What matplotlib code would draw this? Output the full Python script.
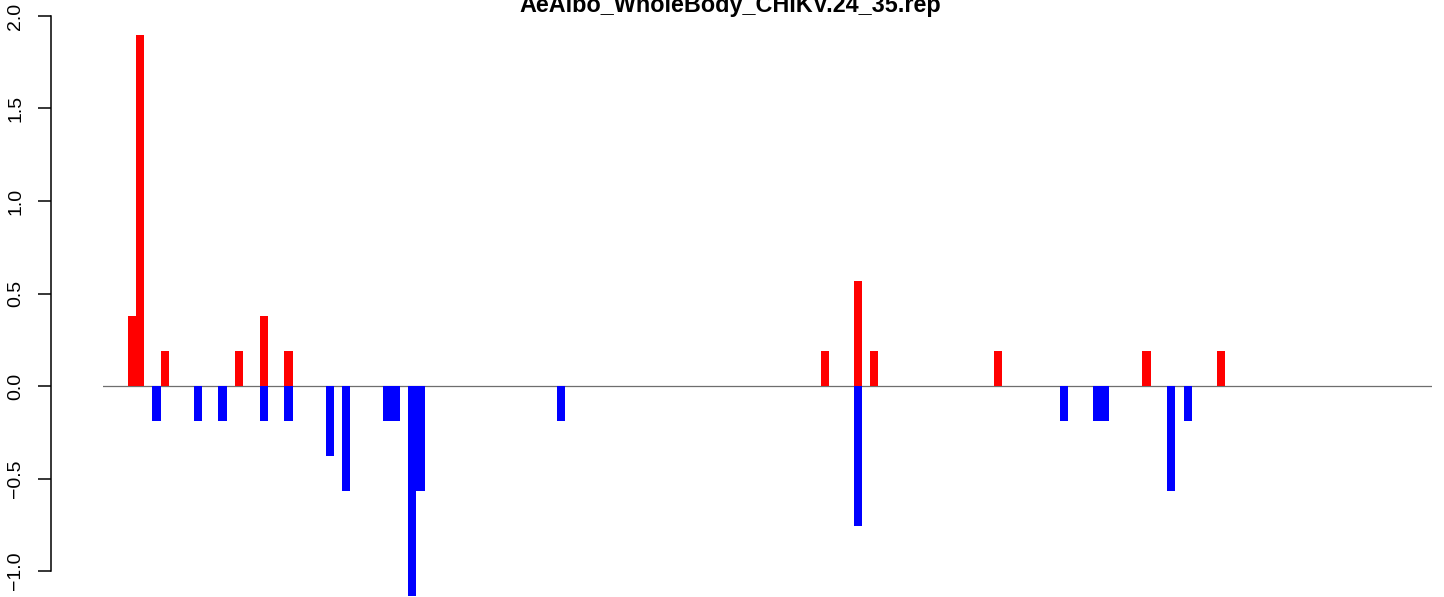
import matplotlib
matplotlib.use("Agg")
import matplotlib.pyplot as plt

plt.rcParams['font.family'] = ['Liberation Sans', 'DejaVu Sans']

title = "AeAlbo_WholeBody_CHIKV.24_35.rep"

# one step on the y scale (all bars are multiples of it)
u = 0.1895

# bar slots (index along the x axis) and heights
up_pos = [0, 1, 4, 13, 16, 19, 84, 88, 90, 105, 123, 132]
up_val = [2 * u, 10 * u, u, u, 2 * u, u, u, 3 * u, u, u, u, u]

down_pos = [3, 8, 11, 16, 19, 24, 26, 31, 32, 34, 35, 52,
            88, 113, 117, 118, 126, 128]
down_val = [-u, -u, -u, -u, -u, -2 * u, -3 * u, -u, -u, -6 * u, -3 * u, -u,
            -4 * u, -u, -u, -u, -3 * u, -u]

yticks = [-1.0, -0.5, 0.0, 0.5, 1.0, 1.5, 2.0]

W, H, DPI = 1444, 597, 100
fig = plt.figure(figsize=(W / DPI, H / DPI), dpi=DPI)
ax = fig.add_axes([103 / W, 0, (1432 - 103) / W, 1])

ax.bar(up_pos, up_val, width=1, align='edge', color='#ff0000', linewidth=0)
ax.bar(down_pos, down_val, width=1, align='edge', color='#0000ff', linewidth=0)
ax.axhline(0, color='#6e6e6e', lw=0.9, zorder=0)

ax.set_xlim(-2.99, 158.1)
ax.set_ylim(-(H - 386) / 185, 386 / 185)

for s in ['top', 'right', 'bottom']:
    ax.spines[s].set_visible(False)
ax.spines['left'].set_position(('outward', 52 * 72 / DPI))
ax.spines['left'].set_bounds(-1, 2)
ax.spines['left'].set_linewidth(1.1)

ax.set_xticks([])
ax.set_yticks(yticks)
ax.set_yticklabels([f"{t:.1f}".replace("-", "\u2212") for t in yticks])
ax.tick_params(axis='y', length=9.4, width=1.1, pad=10, labelsize=14,
               labelrotation=90)
for lab in ax.get_yticklabels():
    lab.set_va('center')

fig.text(730 / W, 1 - 12 / H, title, ha='center', va='baseline',
         fontsize=16.8, fontweight='bold')

fig.savefig("out.png", dpi=DPI)
